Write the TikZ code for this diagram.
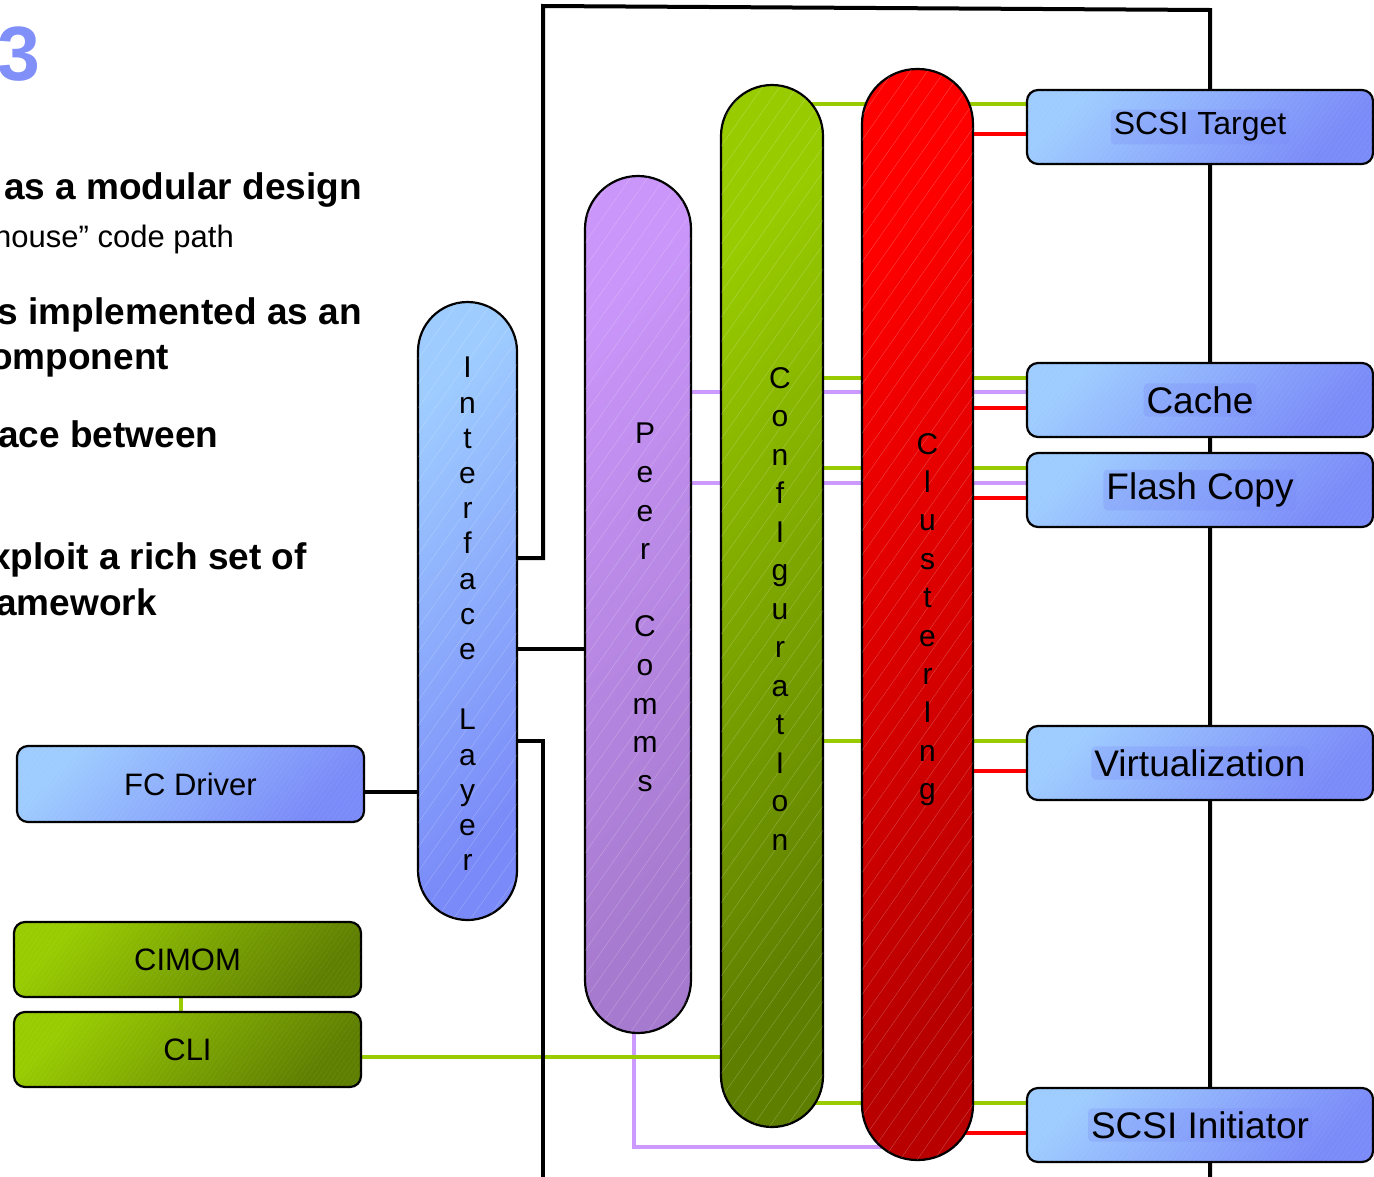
\documentclass[tikz,border=0pt]{standalone}
\usepackage{fontspec}
\setmainfont{Liberation Sans}
\usetikzlibrary{patterns.meta}

\definecolor{bluelt}{RGB}{158,204,255}
\definecolor{bluedk}{RGB}{122,138,248}
\definecolor{purlt}{RGB}{202,150,250}
\definecolor{purdk}{RGB}{166,122,206}
\definecolor{grnlt}{RGB}{153,204,0}
\definecolor{grndk}{RGB}{94,126,0}
\definecolor{redlt}{RGB}{255,0,0}
\definecolor{reddk}{RGB}{184,0,0}
\definecolor{lnpur}{RGB}{204,153,255}
\definecolor{lngrn}{RGB}{153,204,0}
\definecolor{lnred}{RGB}{255,0,0}
\definecolor{titleblue}{RGB}{128,144,248}

\tikzset{
  x=1pt, y=-1pt,
  hatchwide/.style={postaction={opacity=0.35, pattern color=white,
      pattern={Lines[angle=55,distance=14pt,line width=0.25pt]}}},
  hatchfine/.style={postaction={opacity=0.35, pattern color=white,
      pattern={Lines[angle=55,distance=4pt,line width=0.2pt]}}},
  pill/.style={draw=black, line width=2.2pt, rectangle, inner sep=0pt, hatchwide},
  blueshade/.style={top color=bluelt, bottom color=bluedk, shading angle=45},
  purshade/.style={top color=purlt, bottom color=purdk, shading angle=45},
  grnshade/.style={top color=grnlt, bottom color=grndk, shading angle=45},
  redshade/.style={top color=redlt, bottom color=reddk, shading angle=45},
  pilltext/.style={align=center, inner sep=0pt},
  modbox/.style={draw=black, line width=2.2pt, rectangle, rounded corners=11pt,
      minimum width=346pt, minimum height=74pt, inner sep=0pt, hatchfine},
  hl/.style={fill=bluedk, fill opacity=0.28, text opacity=1, rounded corners=4pt,
      inner sep=3pt, font=\fontsize{37}{40}\selectfont},
  bul/.style={font=\fontsize{37}{40}\selectfont\bfseries, inner sep=0pt},
  sub/.style={font=\fontsize{31}{36}\selectfont, inner sep=0pt},
  conn/.style={line width=4pt},
  gline/.style={conn, draw=lngrn},
  pline/.style={conn, draw=lnpur},
  rline/.style={conn, draw=lnred},
  frame/.style={line width=4pt, draw=black},
}

\begin{document}
\begin{tikzpicture}
\useasboundingbox (0,0) rectangle (1374,1176);
\clip (0,0) rectangle (1374,1176);

% slide text
\node[font=\fontsize{77}{80}\selectfont\bfseries, text=titleblue, inner sep=0pt,
      anchor=base east] (ver) at (41,80) {3};
\node[bul, anchor=base east] (b1) at (362,199) {as a modular design};
\node[sub, anchor=base east] (s1) at (234,247) {house” code path};
\node[bul, anchor=base east] (b2) at (362,324) {s implemented as an};
\node[bul, anchor=base west] (b3) at (-10,369) {omponent};
\node[bul, anchor=base west] (b4) at (-2,447) {ace between};
\node[bul, anchor=base east] (b5) at (307,569) {xploit a rich set of};
\node[bul, anchor=base west] (b6) at (-4,615) {amework};

% connector end points, fixed before the shapes are drawn
\coordinate (tgtW)   at (1027,127);
\coordinate (cacheW) at (1027,400);
\coordinate (flashW) at (1027,490);
\coordinate (virtW)  at (1027,763);
\coordinate (initW)  at (1027,1125);
\coordinate (confX)  at (772,606);
\coordinate (peerX)  at (638,604.5);
\coordinate (clusX)  at (917.5,614.5);
\coordinate (ifaceX) at (467.5,611);

\coordinate (gT) at ([yshift=23pt]tgtW);
\coordinate (rT) at ([yshift=-7pt]tgtW);
\coordinate (gC) at ([yshift=22pt]cacheW);
\coordinate (pC) at ([yshift=8pt]cacheW);
\coordinate (rC) at ([yshift=-8pt]cacheW);
\coordinate (gF) at ([yshift=22pt]flashW);
\coordinate (pF) at ([yshift=7pt]flashW);
\coordinate (rF) at ([yshift=-8pt]flashW);
\coordinate (gV) at ([yshift=22pt]virtW);
\coordinate (rV) at ([yshift=-8pt]virtW);
\coordinate (gI) at ([yshift=22pt]initW);
\coordinate (rI) at ([yshift=-8pt]initW);
\coordinate (gL) at (361,1057);
\coordinate (pB) at (917,1147);
\coordinate (fcL) at (364,792);
\coordinate (ip) at (530,649);
\coordinate (cm1) at (181,997);
\coordinate (cm2) at (181,1012);
\coordinate (f1) at (543,558);
\coordinate (f2) at (543,6);
\coordinate (f3) at (1210,10);
\coordinate (f4) at (1210,1180);
\coordinate (h1) at (543,741);
\coordinate (h2) at (543,1180);

% connectors
\draw[gline] (gT) -- (gT -| confX);
\draw[gline] (gC) -- (gC -| confX);
\draw[gline] (gF) -- (gF -| confX);
\draw[gline] (gV) -- (gV -| confX);
\draw[gline] (gI) -- (gI -| confX);
\draw[pline] (pC) -- (pC -| peerX);
\draw[pline] (pF) -- (pF -| peerX);
\draw[pline] ([xshift=-4pt]peerX) |- (pB);
\draw[rline] (rT) -- (rT -| clusX);
\draw[rline] (rC) -- (rC -| clusX);
\draw[rline] (rF) -- (rF -| clusX);
\draw[rline] (rV) -- (rV -| clusX);
\draw[rline] (rI) -- (rI -| clusX);
\draw[gline] (gL) -- (gL -| confX);
\draw[gline] (cm1) -- (cm2);
\draw[conn, draw=black] (fcL) -- (fcL -| ifaceX);
\draw[conn, draw=black] (ip -| ifaceX) -- (ip -| peerX);

% outer frame
\draw[frame] (f1 -| ifaceX) -- (f1) -- (f2) -- (f3) -- (f4);
\draw[frame] (h1 -| ifaceX) -- (h1) -- (h2);

% pillars
\node[pill, blueshade, minimum width=99pt, minimum height=618pt,
      rounded corners=49.5pt] (iface) at (ifaceX) {};
\node[pill, purshade, minimum width=106pt, minimum height=857pt,
      rounded corners=53pt] (peer) at (peerX) {};
\node[pill, grnshade, minimum width=102pt, minimum height=1042pt,
      rounded corners=51pt] (conf) at (confX) {};
\node[pill, redshade, minimum width=111pt, minimum height=1091pt,
      rounded corners=55pt] (clus) at (clusX) {};

\node[pilltext, font=\fontsize{30}{35.2}\selectfont] (ifacetxt)
  at ([yshift=-3pt]iface.center) {I\\n\\t\\e\\r\\f\\a\\c\\e\\\mbox{}\\L\\a\\y\\e\\r};
\node[pilltext, font=\fontsize{30}{38.6}\selectfont] (peertxt)
  at ([xshift=7pt,yshift=-3pt]peer.center) {P\\e\\e\\r\\\mbox{}\\C\\o\\m\\m\\s};
\node[pilltext, font=\fontsize{30}{38.5}\selectfont] (conftxt)
  at ([xshift=8pt,yshift=-3pt]conf.center) {C\\o\\n\\f\\I\\g\\u\\r\\a\\t\\I\\o\\n};
\node[pilltext, font=\fontsize{30}{38.4}\selectfont] (clustxt)
  at ([xshift=10pt,yshift=-5pt]clus.center) {C\\l\\u\\s\\t\\e\\r\\I\\n\\g};

% modules
\node[modbox, blueshade, label={[hl, font=\fontsize{32}{36}\selectfont]center:SCSI Target}] (tgt) at ([xshift=173pt]tgtW) {};
\node[modbox, blueshade, label={[hl]center:Cache}] (cache) at ([xshift=173pt]cacheW) {};
\node[modbox, blueshade, label={[hl]center:Flash Copy}] (flash) at ([xshift=173pt]flashW) {};
\node[modbox, blueshade, label={[hl]center:Virtualization}] (virt) at ([xshift=173pt]virtW) {};
\node[modbox, blueshade, label={[hl]center:SCSI Initiator}] (init) at ([xshift=173pt]initW) {};
\node[modbox, blueshade, minimum width=347pt, minimum height=76pt,
      font=\fontsize{31}{36}\selectfont] (fc) at (190.5,784) {FC Driver};
\node[modbox, grnshade, minimum width=347pt, minimum height=75pt,
      font=\fontsize{31}{36}\selectfont] (cimom) at (187.5,959.5) {CIMOM};
\node[modbox, grnshade, minimum width=347pt, minimum height=75pt,
      font=\fontsize{31}{36}\selectfont] (cli) at (187.5,1049.5) {CLI};
\end{tikzpicture}
\end{document}
